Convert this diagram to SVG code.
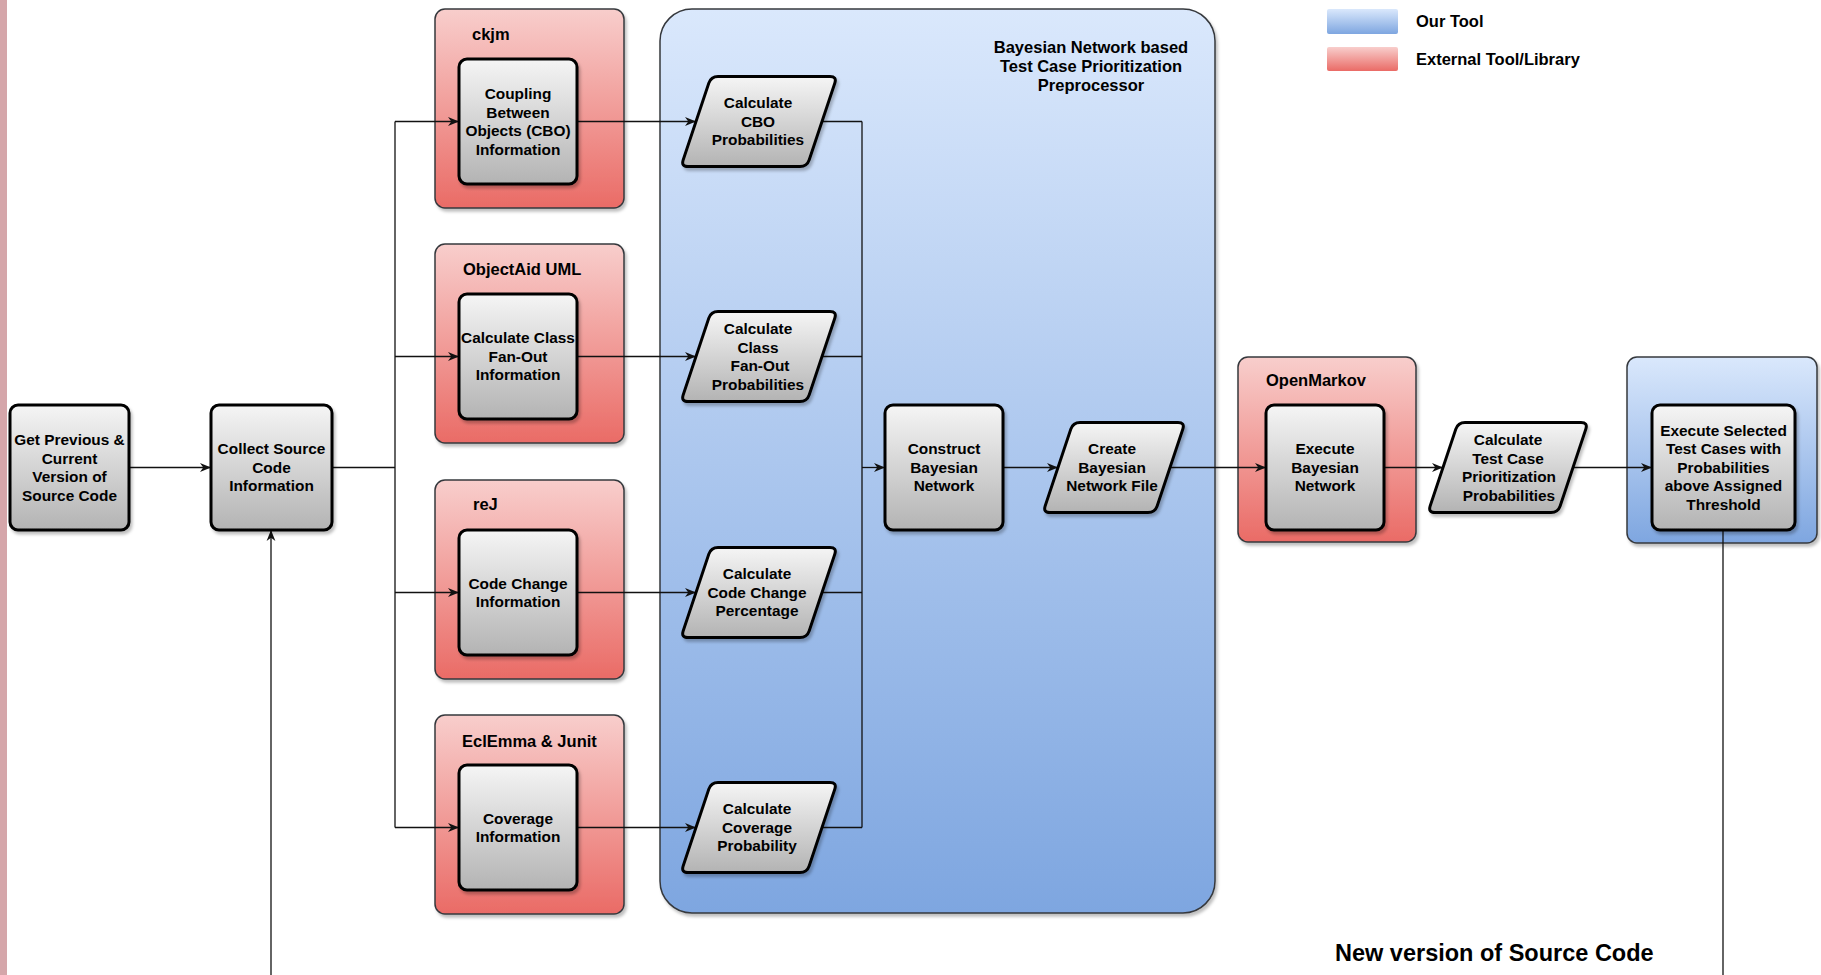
<svg xmlns="http://www.w3.org/2000/svg" width="1821" height="975" viewBox="0 0 1821 975">
<defs>
  <linearGradient id="gRed" x1="0" y1="0" x2="0" y2="1">
    <stop offset="0" stop-color="#f8cecc"/>
    <stop offset="1" stop-color="#ea6b66"/>
  </linearGradient>
  <linearGradient id="gBlue" x1="0" y1="0" x2="0" y2="1">
    <stop offset="0" stop-color="#dae8fc"/>
    <stop offset="1" stop-color="#7ea6e0"/>
  </linearGradient>
  <linearGradient id="gGray" x1="0" y1="0" x2="0" y2="1">
    <stop offset="0" stop-color="#f5f5f5"/>
    <stop offset="1" stop-color="#b3b3b3"/>
  </linearGradient>
  <filter id="shadow" x="-10%" y="-10%" width="130%" height="130%">
    <feDropShadow dx="2" dy="3" stdDeviation="1.5" flood-color="#000" flood-opacity="0.25"/>
  </filter>
  <marker id="arrow" markerUnits="userSpaceOnUse" viewBox="0 0 10 10" markerWidth="11" markerHeight="11" refX="10" refY="5" orient="auto">
    <path d="M0,1 L10,5 L0,9 L3,5 Z" fill="#111"/>
  </marker>
  <path id="para156" d="M37,0 L149,0 Q156,0 153.8,6.6 L128.2,83.4 Q126,90 119,90 L7,90 Q0,90 2.2,83.4 L27.8,6.6 Q30,0 37,0 Z"/>
</defs>
<style>
  .node { fill: url(#gGray); stroke: #000; stroke-width: 3; filter: url(#shadow); }
  .red { fill: url(#gRed); stroke: #36393d; stroke-width: 1.5; filter: url(#shadow); }
  .blue { fill: url(#gBlue); stroke: #36393d; stroke-width: 1.5; filter: url(#shadow); }
  .t { font-family: "Liberation Sans", Arial, sans-serif; font-weight: bold; font-size: 15.4px; fill: #000; text-anchor: middle; }
  .title { font-family: "Liberation Sans", Arial, sans-serif; font-weight: bold; font-size: 16.5px; fill: #000; }
  .big { font-family: "Liberation Sans", Arial, sans-serif; font-weight: bold; font-size: 23.5px; fill: #000; }
  .conn path { fill: none; stroke: #111; stroke-width: 1.3; }
  .arr { marker-end: url(#arrow); }
</style>

<rect x="0" y="0" width="1821" height="975" fill="#ffffff"/>
<rect x="0" y="0" width="7" height="975" fill="#d5a6aa"/>

<!-- Legend -->
<g id="legend">
  <rect x="1327" y="9" width="71" height="25" rx="2" fill="url(#gBlue)"/>
  <rect x="1327" y="47" width="71" height="24" rx="2" fill="url(#gRed)"/>
  <text class="title" x="1416" y="27">Our Tool</text>
  <text class="title" x="1416" y="65">External Tool/Library</text>
</g>

<!-- Containers -->
<g id="bayesian-preprocessor">
  <rect class="blue" x="660" y="9" width="555" height="904" rx="32"/>
  <text class="title" text-anchor="middle" x="1091" y="53">Bayesian Network based</text>
  <text class="title" text-anchor="middle" x="1091" y="72">Test Case Prioritization</text>
  <text class="title" text-anchor="middle" x="1091" y="91">Preprocessor</text>
</g>

<g id="ckjm">
  <rect class="red" x="435" y="9" width="189" height="199" rx="10"/>
  <text class="title" x="472" y="40">ckjm</text>
</g>
<g id="objectaid">
  <rect class="red" x="435" y="244" width="189" height="199" rx="10"/>
  <text class="title" x="463" y="275">ObjectAid UML</text>
</g>
<g id="rej">
  <rect class="red" x="435" y="480" width="189" height="199" rx="10"/>
  <text class="title" x="473" y="510">reJ</text>
</g>
<g id="eclemma">
  <rect class="red" x="435" y="715" width="189" height="199" rx="10"/>
  <text class="title" x="462" y="747">EclEmma &amp; Junit</text>
</g>
<g id="openmarkov">
  <rect class="red" x="1238" y="357" width="178" height="185" rx="10"/>
  <text class="title" x="1266" y="386">OpenMarkov</text>
</g>
<g id="our-tool-exec">
  <rect class="blue" x="1627" y="357" width="190" height="186" rx="10"/>
</g>

<!-- Connectors -->
<g id="connectors" class="conn">
  <path class="arr" d="M129,467.5 H211"/>
  <path d="M332,467.5 H395"/>
  <path d="M395,121.5 V827.5"/>
  <path class="arr" d="M395,121.5 H459"/>
  <path class="arr" d="M395,356.5 H459"/>
  <path class="arr" d="M395,592.5 H459"/>
  <path class="arr" d="M395,827.5 H459"/>
  <path class="arr" d="M577,121.5 H696"/>
  <path class="arr" d="M577,356.5 H696"/>
  <path class="arr" d="M577,592.5 H696"/>
  <path class="arr" d="M577,827.5 H696"/>
  <path d="M822,121.5 H862"/>
  <path d="M822,356.5 H862"/>
  <path d="M822,592.5 H862"/>
  <path d="M822,827.5 H862"/>
  <path d="M862,121.5 V827.5"/>
  <path class="arr" d="M862,467.5 H885"/>
  <path class="arr" d="M1003,467.5 H1058"/>
  <path class="arr" d="M1170,467.5 H1266"/>
  <path class="arr" d="M1384,467.5 H1443"/>
  <path class="arr" d="M1573,467.5 H1652"/>
  <path d="M1723,530 V975"/>
  <path class="arr" d="M271,975 V530"/>
</g>

<!-- Nodes -->
<g id="get-previous">
  <rect class="node" x="10" y="405" width="119" height="125" rx="8"/>
  <text class="t" x="69.5" y="444.9">Get Previous &amp;</text>
  <text class="t" x="69.5" y="463.5">Current</text>
  <text class="t" x="69.5" y="482.1">Version of</text>
  <text class="t" x="69.5" y="500.7">Source Code</text>
</g>
<g id="collect-source">
  <rect class="node" x="211" y="405" width="121" height="125" rx="8"/>
  <text class="t" x="271.5" y="454.2">Collect Source</text>
  <text class="t" x="271.5" y="472.8">Code</text>
  <text class="t" x="271.5" y="491.4">Information</text>
</g>
<g id="cbo-info">
  <rect class="node" x="459" y="59" width="118" height="125" rx="8"/>
  <text class="t" x="518" y="98.9">Coupling</text>
  <text class="t" x="518" y="117.5">Between</text>
  <text class="t" x="518" y="136.1">Objects (CBO)</text>
  <text class="t" x="518" y="154.7">Information</text>
</g>
<g id="fanout-info">
  <rect class="node" x="459" y="294" width="118" height="125" rx="8"/>
  <text class="t" x="518" y="343.2">Calculate Class</text>
  <text class="t" x="518" y="361.8">Fan-Out</text>
  <text class="t" x="518" y="380.4">Information</text>
</g>
<g id="codechange-info">
  <rect class="node" x="459" y="530" width="118" height="125" rx="8"/>
  <text class="t" x="518" y="588.5">Code Change</text>
  <text class="t" x="518" y="607.1">Information</text>
</g>
<g id="coverage-info">
  <rect class="node" x="459" y="765" width="118" height="125" rx="8"/>
  <text class="t" x="518" y="823.5">Coverage</text>
  <text class="t" x="518" y="842.1">Information</text>
</g>

<g id="calc-cbo">
  <use href="#para156" class="node" transform="translate(681,76.5)"/>
  <text class="t" x="758" y="108.2">Calculate</text>
  <text class="t" x="758" y="126.8">CBO</text>
  <text class="t" x="758" y="145.4">Probabilities</text>
</g>
<g id="calc-fanout">
  <use href="#para156" class="node" transform="translate(681,311.5)"/>
  <text class="t" x="758" y="333.9">Calculate</text>
  <text class="t" x="758" y="352.5">Class</text>
  <text class="t" x="760" y="371.1">Fan-Out</text>
  <text class="t" x="758" y="389.7">Probabilities</text>
</g>
<g id="calc-codechange">
  <use href="#para156" class="node" transform="translate(681,547.5)"/>
  <text class="t" x="757" y="579.2">Calculate</text>
  <text class="t" x="757" y="597.8">Code Change</text>
  <text class="t" x="757" y="616.4">Percentage</text>
</g>
<g id="calc-coverage">
  <use href="#para156" class="node" transform="translate(681,782.5)"/>
  <text class="t" x="757" y="814.2">Calculate</text>
  <text class="t" x="757" y="832.8">Coverage</text>
  <text class="t" x="757" y="851.4">Probability</text>
</g>

<g id="construct-bn">
  <rect class="node" x="885" y="405" width="118" height="125" rx="8"/>
  <text class="t" x="944" y="454.2">Construct</text>
  <text class="t" x="944" y="472.8">Bayesian</text>
  <text class="t" x="944" y="491.4">Network</text>
</g>
<g id="create-bn-file">
  <path class="node" transform="translate(1043,422.5)" d="M37,0 L135,0 Q142,0 139.8,6.6 L114.2,83.4 Q112,90 105,90 L7,90 Q0,90 2.2,83.4 L27.8,6.6 Q30,0 37,0 Z"/>
  <text class="t" x="1112" y="454.2">Create</text>
  <text class="t" x="1112" y="472.8">Bayesian</text>
  <text class="t" x="1112" y="491.4">Network File</text>
</g>
<g id="execute-bn">
  <rect class="node" x="1266" y="405" width="118" height="125" rx="8"/>
  <text class="t" x="1325" y="454.2">Execute</text>
  <text class="t" x="1325" y="472.8">Bayesian</text>
  <text class="t" x="1325" y="491.4">Network</text>
</g>
<g id="calc-testcase">
  <path class="node" transform="translate(1428,422.5)" d="M37,0 L153,0 Q160,0 157.8,6.6 L132.2,83.4 Q130,90 123,90 L7,90 Q0,90 2.2,83.4 L27.8,6.6 Q30,0 37,0 Z"/>
  <text class="t" x="1508" y="444.9">Calculate</text>
  <text class="t" x="1508" y="463.5">Test Case</text>
  <text class="t" x="1509" y="482.1">Prioritization</text>
  <text class="t" x="1509" y="500.7">Probabilities</text>
</g>
<g id="execute-selected">
  <rect class="node" x="1652" y="405" width="143" height="125" rx="8"/>
  <text class="t" x="1723.5" y="435.6">Execute Selected</text>
  <text class="t" x="1723.5" y="454.2">Test Cases with</text>
  <text class="t" x="1723.5" y="472.8">Probabilities</text>
  <text class="t" x="1723.5" y="491.4">above Assigned</text>
  <text class="t" x="1723.5" y="510">Threshold</text>
</g>

<g id="new-version-label">
  <text class="big" x="1335" y="961">New version of Source Code</text>
</g>
</svg>
